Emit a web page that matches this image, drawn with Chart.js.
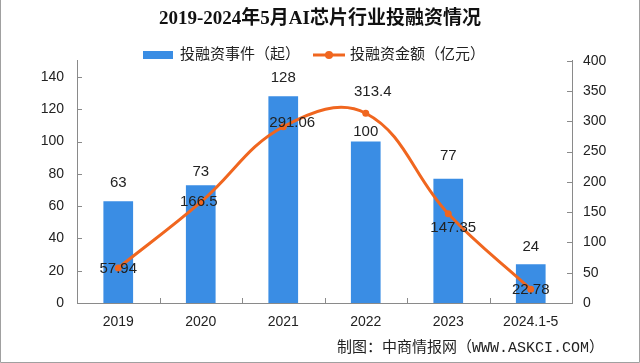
<!DOCTYPE html>
<html>
<head>
<meta charset="utf-8">
<script src="https://cdn.jsdelivr.net/npm/chart.js@4.4.1/dist/chart.umd.min.js"></script>
<style>
  html, body { margin: 0; padding: 0; background: #fff; overflow: hidden; }
  #box { width: 640px; height: 363px; }
  canvas { display: block; }
</style>
</head>
<body>
<div id="box"><canvas id="chart" width="640" height="363"></canvas></div>
<script>
// 数据
const years = ['2019', '2020', '2021', '2022', '2023', '2024.1-5'];
const eventCounts = [63, 73, 128, 100, 77, 24];
const amounts = [57.94, 166.5, 291.06, 313.4, 147.35, 22.78];
const eventLabel = '投融资事件（起）';
const amountLabel = '投融资金额（亿元）';
const chartTitle = '2019-2024年5月AI芯片行业投融资情况';
const sourceText = '制图：中商情报网（WWW.ASKCI.COM）';

const BLUE = '#3a8de4';
const ORANGE = '#f0661f';
const AXIS = '#8a8a8a';
const TEXT = '#222';
const FONT = "'Liberation Sans', 'Noto Sans CJK SC', sans-serif";

// 标签相对位置 (样式)
const barLabelLift = [18, 13, 18, 10, 23, 17];
const amountLabelShift = [[0, 1], [-2, 0], [9, -4], [7, -21], [5, 14], [0, 1]];

const extrasPlugin = {
  id: 'extras',
  afterDatasetsDraw(chart) {
    const { ctx } = chart;
    const x = chart.scales.x;
    const y = chart.scales.y;
    const y1 = chart.scales.y1;
    ctx.save();
    ctx.font = `15px ${FONT}`;
    ctx.fillStyle = TEXT;
    ctx.textAlign = 'center';
    ctx.textBaseline = 'middle';

    // 柱子数值
    chart.getDatasetMeta(1).data.forEach((bar, i) => {
      ctx.fillText(String(eventCounts[i]), bar.x, bar.y - barLabelLift[i]);
    });
    // 折线数值
    chart.getDatasetMeta(0).data.forEach((pt, i) => {
      const [dx, dy] = amountLabelShift[i];
      ctx.fillText(String(amounts[i]), pt.x + dx, pt.y + dy);
    });

    // 向内刻度线
    ctx.strokeStyle = AXIS;
    ctx.lineWidth = 1;
    ctx.beginPath();
    y.ticks.forEach((t) => {
      const py = Math.round(y.getPixelForValue(t.value)) + 0.5;
      ctx.moveTo(y.right, py);
      ctx.lineTo(y.right + 5, py);
    });
    y1.ticks.forEach((t) => {
      const py = Math.round(y1.getPixelForValue(t.value)) + 0.5;
      ctx.moveTo(y1.left, py);
      ctx.lineTo(y1.left - 5, py);
    });
    for (let i = 1; i < years.length; i++) {
      const px = Math.round((x.getPixelForValue(i - 1) + x.getPixelForValue(i)) / 2) + 0.5;
      ctx.moveTo(px, x.top);
      ctx.lineTo(px, x.top - 5);
    }
    ctx.stroke();

    // 图例
    const ly = 55;
    ctx.font = `15px ${FONT}`;
    ctx.textAlign = 'left';
    ctx.fillStyle = BLUE;
    ctx.fillRect(143, ly - 4, 30, 8);
    ctx.fillStyle = TEXT;
    ctx.fillText(eventLabel, 180, ly);
    ctx.strokeStyle = ORANGE;
    ctx.lineWidth = 3;
    ctx.beginPath();
    ctx.moveTo(313, ly);
    ctx.lineTo(345, ly);
    ctx.stroke();
    ctx.fillStyle = ORANGE;
    ctx.beginPath();
    ctx.arc(329, ly, 4, 0, Math.PI * 2);
    ctx.fill();
    ctx.fillStyle = TEXT;
    ctx.fillText(amountLabel, 350, ly);

    // 来源
    ctx.font = `15px 'Liberation Mono', 'Noto Sans CJK SC', monospace`;
    ctx.textAlign = 'right';
    ctx.fillText(sourceText, 604, 348);

    // 外框
    ctx.strokeStyle = '#a0a0a0';
    ctx.lineWidth = 1;
    ctx.beginPath();
    ctx.moveTo(0.5, 0);
    ctx.lineTo(0.5, 362.5);
    ctx.lineTo(639.5, 362.5);
    ctx.lineTo(639.5, 0);
    ctx.stroke();
    ctx.restore();
  },
};

const ctx = document.getElementById('chart');
new Chart(ctx, {
  data: {
    labels: years,
    datasets: [
      {
        type: 'line',
        label: amountLabel,
        data: amounts,
        yAxisID: 'y1',
        borderColor: ORANGE,
        backgroundColor: ORANGE,
        borderWidth: 3,
        pointRadius: 3.5,
        pointBackgroundColor: ORANGE,
        pointBorderWidth: 0,
        tension: 0.4,
        order: 0,
      },
      {
        type: 'bar',
        label: eventLabel,
        data: eventCounts,
        yAxisID: 'y',
        backgroundColor: BLUE,
        barPercentage: 0.36,
        categoryPercentage: 1,
        order: 1,
      },
    ],
  },
  options: {
    responsive: false,
    animation: false,
    devicePixelRatio: 1,
    layout: { padding: { left: 0, right: 0, top: 0, bottom: 0 } },
    plugins: {
      legend: { display: false },
      tooltip: { enabled: false },
      title: {
        display: true,
        text: chartTitle,
        color: '#111',
        font: { family: "'Liberation Serif', 'Noto Sans CJK SC', serif", size: 19, weight: 'bold' },
        padding: { top: 8, bottom: 30 },
      },
    },
    scales: {
      x: {
        grid: { display: false, drawTicks: false },
        border: { display: true, color: AXIS },
        ticks: { color: TEXT, font: { family: FONT, size: 14 }, padding: 11, maxRotation: 0 },
        afterFit: (s) => { s.height = 60; },
      },
      y: {
        position: 'left',
        min: 0,
        max: 150,
        grid: { display: false, drawTicks: false },
        border: { display: true, color: AXIS },
        ticks: { stepSize: 20, color: TEXT, font: { family: FONT, size: 14 }, padding: 13 },
        afterBuildTicks: (s) => { s.ticks = s.ticks.filter((t) => t.value <= 140); },
        afterFit: (s) => { s.width = 77; },
      },
      y1: {
        position: 'right',
        min: 0,
        max: 400,
        grid: { display: false, drawTicks: false },
        border: { display: true, color: AXIS },
        ticks: { stepSize: 50, color: TEXT, font: { family: FONT, size: 14 }, padding: 11 },
        afterFit: (s) => { s.width = 68; },
      },
    },
  },
  plugins: [extrasPlugin],
});
</script>
</body>
</html>
